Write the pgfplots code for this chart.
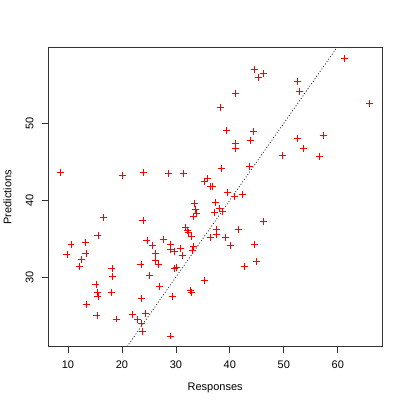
\documentclass[border=0pt]{standalone}
\usepackage{fontspec}
\setmainfont{Liberation Sans}
\usepackage{pgfplots}
\pgfplotsset{compat=1.18}
\usetikzlibrary{calc}
\definecolor{rred}{RGB}{255,0,0}
\newcommand{\lbl}{\fontsize{11}{13}\selectfont}

\begin{document}
\begin{tikzpicture}
\begin{axis}[
  scale only axis, width=334.6pt, height=299.3pt,
  xmin=6.30, xmax=68.26, ymin=20.95, ymax=59.82,
  axis line style={draw=black!80, line width=0.75pt},
  xtick={10,20,...,60}, ytick={30,40,50},
  xtick pos=left, ytick pos=left,
  tick align=outside, major tick length=6pt,
  tick style={black!80, line width=0.75pt},
  /pgf/number format/assume math mode=true,
  tick label style={font=\lbl},
  xticklabel shift=5pt, yticklabel shift=5pt,
  yticklabel style={rotate=90, anchor=south},
  xlabel={Responses}, ylabel={Predictions},
  label style={font=\lbl},
  xlabel style={at={(axis description cs:0.5,-0.137)}, anchor=center},
  ylabel style={at={(axis description cs:-0.1216,0.5)}, anchor=center},
  clip=true,
]
\addplot[only marks, mark=+, mark size=3.5pt, color=rred, mark options={line width=0.8pt}] coordinates {
(8.58,43.64)(9.80,32.99)(10.56,34.29)(12.20,31.34)(12.50,32.29)(13.27,34.46)
(13.33,33.03)(13.46,26.45)(15.19,29.09)(15.37,25.06)(15.49,28.05)(15.56,27.49)
(15.56,35.41)(16.54,37.75)(18.15,31.08)(18.27,30.09)(18.02,27.97)(19.01,24.55)
(20.06,43.20)(21.98,25.19)(22.90,24.46)(23.52,31.69)(23.70,27.19)(23.70,24.03)
(23.83,22.94)(23.95,43.64)(23.89,37.32)(24.38,25.32)(24.63,34.80)(25.12,30.22)
(25.68,34.16)(26.17,33.03)(26.23,32.21)(26.73,31.69)(26.98,28.75)(27.72,34.89)
(28.70,43.51)(29.01,22.34)(29.07,34.20)(28.95,33.64)(29.44,27.53)(29.69,33.29)
(29.81,31.08)(30.06,31.26)(30.86,33.77)(31.23,32.81)(31.42,43.51)(31.85,36.45)
(32.22,36.10)(32.41,35.84)(32.78,28.27)(32.84,28.01)(32.96,35.28)(33.02,33.42)
(33.33,33.94)(33.40,39.57)(33.64,38.74)(33.27,37.88)(33.89,38.23)(35.37,42.47)
(35.37,29.52)(35.86,42.77)(36.36,41.82)(36.79,41.82)(36.42,35.11)(37.28,39.74)
(37.16,38.44)(37.53,36.15)(37.47,35.58)(38.02,38.87)(38.27,52.03)(38.46,44.07)
(38.70,38.48)(39.20,35.11)(39.44,49.00)(39.57,41.04)(40.06,34.07)(40.93,40.52)
(41.05,47.40)(41.05,46.75)(41.11,53.90)(41.60,36.15)(42.28,40.74)(42.72,31.39)
(43.64,44.37)(43.83,47.71)(44.32,48.87)(44.63,57.01)(44.63,34.29)(44.94,32.03)
(45.31,55.93)(46.23,56.49)(46.30,37.19)(49.81,45.76)(52.47,55.45)(52.47,48.05)
(52.90,54.07)(53.58,46.75)(56.60,45.63)(57.28,48.44)(61.30,58.40)(65.86,52.51)
};
\addplot[black!85, line width=0.8pt, dash pattern=on 1pt off 2pt] coordinates {(20,20)(62,62)};
\end{axis}
\path ($(current axis.south west)+(-47.7pt,-60pt)$) rectangle ($(current axis.north east)+(24.7pt,47.7pt)$);
\end{tikzpicture}
\end{document}
